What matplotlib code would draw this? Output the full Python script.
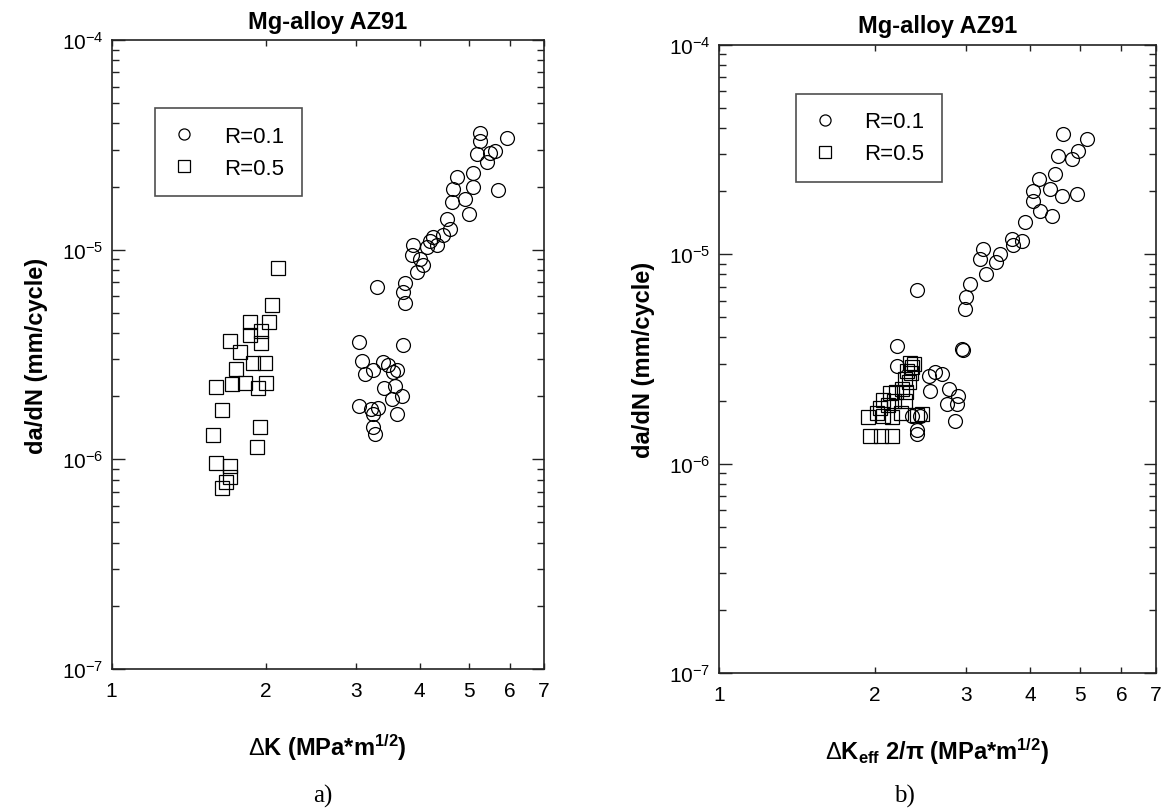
import matplotlib
matplotlib.use('Agg')
import matplotlib.pyplot as plt
from matplotlib.ticker import FixedLocator, NullFormatter, LogLocator
from matplotlib.lines import Line2D

plt.rcParams['font.family'] = ['Liberation Sans', 'DejaVu Sans']
plt.rcParams['mathtext.fontset'] = 'custom'
plt.rcParams['mathtext.rm'] = 'Liberation Sans'
plt.rcParams['mathtext.bf'] = 'Liberation Sans:bold'
plt.rcParams['mathtext.it'] = 'Liberation Sans:italic'

# ---- data: panel a) (dK) ----
r01_dk = [3.30, 3.74, 3.72, 3.74, 3.05, 3.71, 3.08, 3.25, 3.47, 3.61, 3.13, 3.40,
          3.58, 3.53, 3.69, 3.05, 3.22, 3.32, 3.61, 3.25, 3.27, 3.25, 3.55, 3.39,
          5.25, 5.25, 5.92, 5.17, 5.49, 5.61, 5.41, 5.09, 4.73, 4.65, 5.09, 5.70,
          4.62, 4.90, 5.00, 4.52, 4.59, 4.25, 4.45, 3.89, 4.13, 3.86, 4.32, 3.95,
          4.07, 4.00, 4.20]
r01_da = [6.65e-6, 6.9e-6, 6.3e-6, 5.55e-6, 3.62e-6, 3.50e-6, 2.96e-6, 2.68e-6,
          2.83e-6, 2.68e-6, 2.54e-6, 2.19e-6, 2.23e-6, 1.93e-6, 2.00e-6, 1.79e-6,
          1.73e-6, 1.76e-6, 1.64e-6, 1.42e-6, 1.32e-6, 1.64e-6, 2.6e-6, 2.9e-6,
          3.61e-5, 3.30e-5, 3.42e-5, 2.85e-5, 2.90e-5, 2.96e-5, 2.61e-5, 2.33e-5,
          2.21e-5, 1.94e-5, 1.98e-5, 1.92e-5, 1.68e-5, 1.75e-5, 1.48e-5, 1.40e-5,
          1.26e-5, 1.15e-5, 1.17e-5, 1.05e-5, 1.03e-5, 9.4e-6, 1.05e-5, 7.84e-6,
          8.43e-6, 9.0e-6, 1.10e-5]
r05_dk = [2.11, 2.06, 1.86, 2.03, 1.70, 1.96, 1.86, 1.96, 1.78, 1.89, 1.99, 1.75,
          1.60, 1.72, 1.82, 1.93, 2.00, 1.64, 1.58, 1.95, 1.92, 1.60, 1.70, 1.67,
          1.64, 1.70]
r05_da = [8.22e-6, 5.44e-6, 4.51e-6, 4.51e-6, 3.68e-6, 4.10e-6, 3.93e-6, 3.58e-6,
          3.25e-6, 2.88e-6, 2.88e-6, 2.71e-6, 2.21e-6, 2.28e-6, 2.32e-6, 2.18e-6,
          2.32e-6, 1.71e-6, 1.31e-6, 1.42e-6, 1.15e-6, 9.57e-7, 9.33e-7, 7.78e-7,
          7.31e-7, 8.2e-7]

# ---- data: panel b) (dKeff 2/pi) ----
r01_dkeff = [4.62, 5.14, 4.53, 4.81, 4.95, 4.47, 4.15, 4.05, 4.37, 4.92, 4.05, 4.40,
             4.18, 3.91, 3.68, 3.85, 3.24, 3.50, 3.20, 3.44, 3.29, 3.71, 3.06, 3.01,
             2.99, 2.95, 2.41, 4.60,
             2.21, 2.97, 2.21, 2.70, 2.55, 2.62, 2.56, 2.78, 2.90, 2.76, 2.88, 2.86,
             2.36, 2.45, 2.41, 2.42]
r01_daeff = [3.75e-5, 3.55e-5, 2.95e-5, 2.85e-5, 3.12e-5, 2.42e-5, 2.29e-5, 2.01e-5,
             2.05e-5, 1.94e-5, 1.80e-5, 1.52e-5, 1.61e-5, 1.42e-5, 1.18e-5, 1.16e-5,
             1.06e-5, 1.00e-5, 9.46e-6, 9.13e-6, 8.01e-6, 1.10e-5, 7.18e-6, 6.21e-6,
             5.5e-6, 3.54e-6, 6.73e-6, 1.90e-5,
             3.64e-6, 3.50e-6, 2.92e-6, 2.67e-6, 2.62e-6, 2.75e-6, 2.22e-6, 2.26e-6,
             2.10e-6, 1.92e-6, 1.92e-6, 1.59e-6, 1.68e-6, 1.68e-6, 1.38e-6, 1.45e-6]
r05_dkeff = [2.34, 2.38, 2.36, 2.31, 2.35, 2.29, 2.33, 2.26, 2.30, 2.14, 2.20, 2.08,
             2.29, 2.18, 2.05, 2.12, 1.94, 2.08, 2.16, 1.96, 2.06, 2.16, 2.41, 2.47,
             2.25, 2.02]
r05_daeff = [3.03e-6, 3.0e-6, 2.9e-6, 2.77e-6, 2.7e-6, 2.52e-6, 2.45e-6, 2.26e-6,
             2.2e-6, 2.18e-6, 2.2e-6, 2.02e-6, 1.99e-6, 2.0e-6, 1.85e-6, 1.9e-6,
             1.66e-6, 1.68e-6, 1.66e-6, 1.35e-6, 1.35e-6, 1.35e-6, 1.71e-6, 1.72e-6,
             1.75e-6, 1.75e-6]

xticks = [1, 2, 3, 4, 5, 6, 7]
yticks = [1e-7, 1e-6, 1e-5, 1e-4]
ytick_labels = ['$10^{-7}$', '$10^{-6}$', '$10^{-5}$', '$10^{-4}$']

fig = plt.figure(figsize=(11.68, 8.12), dpi=100)
ax1 = fig.add_axes([0.0956, 0.1749, 0.3701, 0.7746])
ax2 = fig.add_axes([0.6156, 0.1700, 0.3741, 0.7737])

marker_kw = dict(linestyle='none', markerfacecolor='none', markeredgecolor='black',
                 markeredgewidth=0.9)


def style_axes(ax, xlabel, legend_pos):
    ax.set_xscale('log')
    ax.set_yscale('log')
    ax.set_xlim(1, 7)
    ax.set_ylim(1e-7, 1e-4)
    ax.xaxis.set_major_locator(FixedLocator(xticks))
    ax.set_xticklabels([str(t) for t in xticks])
    ax.xaxis.set_minor_locator(FixedLocator([]))
    ax.yaxis.set_major_locator(FixedLocator(yticks))
    ax.set_yticklabels(ytick_labels)
    ax.yaxis.set_minor_locator(LogLocator(base=10, subs=range(2, 10)))
    ax.yaxis.set_minor_formatter(NullFormatter())
    ax.tick_params(axis='both', which='both', direction='in', top=True, right=True,
                   labelsize=15, width=1.0, color='#222222')
    ax.tick_params(axis='x', which='major', length=4, pad=9)
    ax.tick_params(axis='y', which='major', length=9, pad=6)
    ax.tick_params(axis='y', which='minor', length=5)
    for sp in ax.spines.values():
        sp.set_linewidth(1.2)
        sp.set_color('#222222')
    ax.set_title('Mg-alloy AZ91', fontsize=17, fontweight='bold', pad=9)
    ax.set_ylabel('da/dN (mm/cycle)', fontsize=17, fontweight='bold', labelpad=10)
    ax.set_xlabel(xlabel, fontsize=17, fontweight='bold', labelpad=22)
    handles = [Line2D([], [], marker='o', markersize=8, **marker_kw),
               Line2D([], [], marker='s', markersize=9, **marker_kw)]
    leg = ax.legend(handles, ['R=0.1', 'R=0.5'], loc='upper left',
                    bbox_to_anchor=legend_pos, fontsize=16, frameon=True,
                    fancybox=False, edgecolor='#222222', handletextpad=1.3,
                    borderpad=0.8, labelspacing=0.5, handlelength=1.0)
    leg.get_frame().set_linewidth(1.2)


ax1.plot(r01_dk, r01_da, marker='o', markersize=10, **marker_kw)
ax1.plot(r05_dk, r05_da, marker='s', markersize=10, **marker_kw)
style_axes(ax1, r'$\Delta$K (MPa*m$^{\mathbf{1/2}}$)', (0.075, 0.91))

ax2.plot(r01_dkeff, r01_daeff, marker='o', markersize=10, **marker_kw)
ax2.plot(r05_dkeff, r05_daeff, marker='s', markersize=10, **marker_kw)
style_axes(ax2, '$\\Delta$K$_{\\mathbf{eff}}$ 2/\u03c0 (MPa*m$^{\\mathbf{1/2}}$)', (0.15, 0.94))

fig.text(0.276, 0.012, 'a)', fontsize=18, family=['Liberation Serif', 'DejaVu Serif'],
         ha='center')
fig.text(0.774, 0.012, 'b)', fontsize=18, family=['Liberation Serif', 'DejaVu Serif'],
         ha='center')

fig.savefig('out.png', dpi=100, facecolor='white')
